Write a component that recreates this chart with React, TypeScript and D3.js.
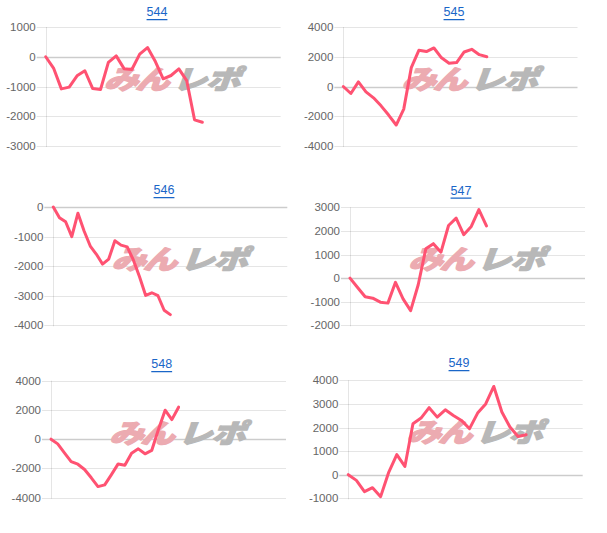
import React from "react";
import * as d3 from "d3";

const titles = ["544", "545", "546", "547", "548", "549"];

const series544 = [0, -380, -1080, -1020, -640, -470, -1070, -1100, -190, 30, -400, -430, 90, 310, -160, -740, -630, -410, -800, -2120, -2200];
const series545 = [0, -470, 310, -360, -760, -1300, -1920, -2590, -1520, 1270, 2430, 2350, 2590, 1930, 1560, 1610, 2320, 2500, 2140, 2000];
const series546 = [0, -360, -500, -1000, -210, -810, -1320, -1600, -1930, -1760, -1140, -1290, -1350, -1790, -2360, -2990, -2900, -3000, -3490, -3640];
const series547 = [0, -400, -790, -850, -1020, -1060, -180, -880, -1380, -280, 1240, 1460, 1100, 2230, 2540, 1840, 2190, 2900, 2210];
const series548 = [0, -320, -930, -1530, -1710, -2070, -2640, -3240, -3120, -2420, -1690, -1780, -960, -660, -1000, -770, 660, 1980, 1340, 2190];
const series549 = [0, -240, -720, -550, -930, 100, 850, 350, 2160, 2400, 2840, 2440, 2750, 2510, 2300, 1950, 2610, 3000, 3740, 2660, 2020, 1620, 1690];

const ticks544 = [1000, 0, -1000, -2000, -3000];
const ticks545 = [4000, 2000, 0, -2000, -4000];
const ticks546 = [0, -1000, -2000, -3000, -4000];
const ticks547 = [3000, 2000, 1000, 0, -1000, -2000];
const ticks548 = [4000, 2000, 0, -2000, -4000];
const ticks549 = [4000, 3000, 2000, 1000, 0, -1000];

// number of x-axis slots (days) per chart
const dayCounts = [31, 32, 39, 32, 36, 30];

const allSeries = [series544, series545, series546, series547, series548, series549];
const allTicks = [ticks544, ticks545, ticks546, ticks547, ticks548, ticks549];

// layout (page coordinates)
const layouts = [
  { left: 45.7, right: 280.7, top: 27, bottom: 146, tx: 157, ty: 12 },
  { left: 343.3, right: 577.5, top: 27, bottom: 146, tx: 454, ty: 12 },
  { left: 53.3, right: 287.3, top: 207, bottom: 325.3, tx: 164, ty: 190 },
  { left: 350, right: 585, top: 207.3, bottom: 325.3, tx: 461, ty: 190.5 },
  { left: 51, right: 286, top: 380.7, bottom: 497.7, tx: 161.7, ty: 364 },
  { left: 348.3, right: 582.7, top: 380.3, bottom: 498.3, tx: 459, ty: 363 },
];

const LINE = "#ff5272";
const FONT = "'Liberation Sans', Arial, Helvetica, sans-serif";

function Panel({ idx }: { idx: number }) {
  const L = layouts[idx];
  const data = allSeries[idx];
  const ticks = allTicks[idx];
  const y = d3
    .scaleLinear()
    .domain([d3.min(ticks) as number, d3.max(ticks) as number])
    .range([L.bottom, L.top]);
  const x = d3.scaleLinear().domain([0, dayCounts[idx] - 1]).range([L.left, L.right]);
  const line = d3
    .line<number>()
    .x((_, i) => x(i))
    .y((d) => y(d));
  const wmX = L.left + 54;
  const wmY = L.top + 62;
  return (
    <g>
      <text
        x={L.tx}
        y={L.ty}
        textAnchor="middle"
        dominantBaseline="central"
        fontFamily={FONT}
        fontSize={12.5}
        fill="#1a66c8"
        textDecoration="underline"
      >
        {titles[idx]}
      </text>
      {ticks.map((t) => (
        <g key={t}>
          <line
            x1={L.left - 9}
            x2={L.right}
            y1={Math.round(y(t)) + 0.5}
            y2={Math.round(y(t)) + 0.5}
            stroke={t === 0 ? "rgba(0,0,0,0.2)" : "rgba(0,0,0,0.1)"}
            strokeWidth={t === 0 ? 1.5 : 1}
          />
          <text
            x={L.left - 10}
            y={y(t)}
            textAnchor="end"
            dominantBaseline="central"
            fontFamily={FONT}
            fontSize={11.5}
            fill="#666"
          >
            {t}
          </text>
        </g>
      ))}
      <line
        x1={Math.round(L.left) + 0.5}
        x2={Math.round(L.left) + 0.5}
        y1={L.top}
        y2={L.bottom + 1}
        stroke="rgba(0,0,0,0.1)"
      />
      <g transform={`translate(${wmX},${wmY}) scale(1.04,0.8) skewX(-16)`} fontFamily="'Noto Sans CJK JP', sans-serif" fontWeight={900} fontSize={33}>
        <text x={4} y={0} fill="#ecabb1" stroke="#ecabb1" strokeWidth={1.6} strokeLinejoin="round" letterSpacing={-3}>
          みん
        </text>
        <text x={70} y={0} fill="#b8b8b8" stroke="#b8b8b8" strokeWidth={1.6} strokeLinejoin="round" letterSpacing={-1}>
          レポ
        </text>
      </g>
      <path d={line(data) || ""} fill="none" stroke={LINE} strokeWidth={3} strokeLinejoin="round" strokeLinecap="round" />
    </g>
  );
}

export default function App() {
  return (
    <svg
      width={607}
      height={533}
      style={{ position: "absolute", left: 0, top: 0, display: "block" }}
    >
      <rect x={0} y={0} width={607} height={533} fill="#fff" />
      {titles.map((_, i) => (
        <Panel key={i} idx={i} />
      ))}
    </svg>
  );
}
